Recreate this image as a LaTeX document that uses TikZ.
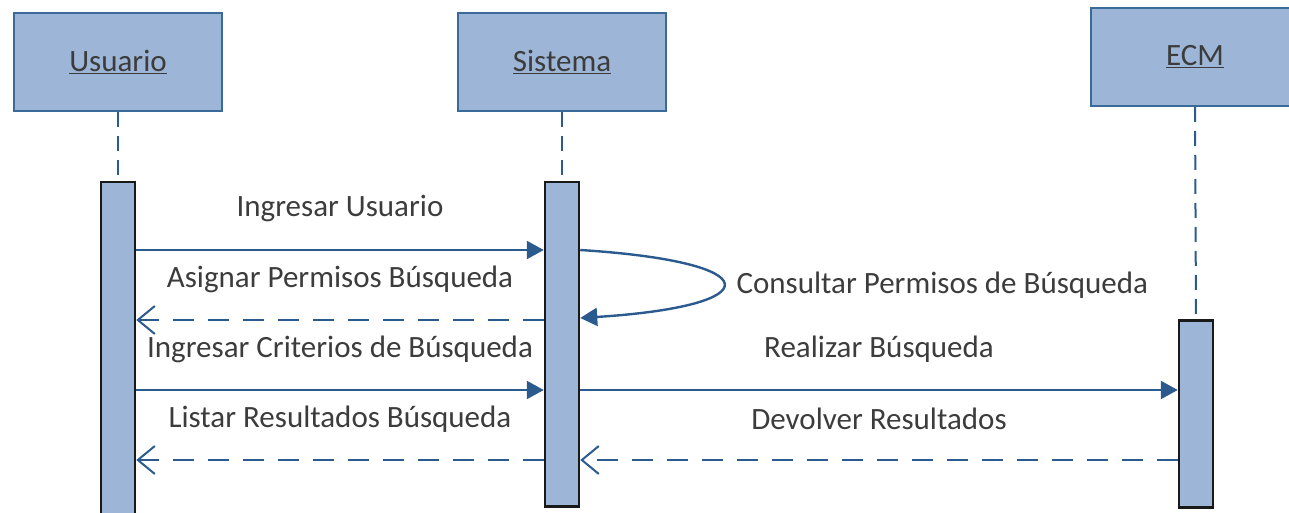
\documentclass[tikz,border=0pt]{standalone}
\usepackage{fontspec}
\setmainfont{Carlito}
\usepackage{tikz}
\usetikzlibrary{arrows.meta,calc}
\definecolor{boxfill}{HTML}{9DB5D6}
\definecolor{boxline}{HTML}{3A6A9A}
\definecolor{msgblue}{HTML}{2B5A8E}
\definecolor{txtgray}{HTML}{3C3C3C}
\tikzset{
    actor/.style={
        draw=boxline,
        fill=boxfill,
        line width=2pt,
        minimum width=208pt,
        minimum height=98pt,
        text=txtgray,
        font=\fontsize{31}{36}\selectfont
    },
    actbar/.style={
        draw=black!90,
        fill=boxfill,
        line width=2.5pt,
        minimum width=34pt,
        anchor=north
    },
    lifeline/.style={
        draw=msgblue,
        line width=2pt,
        dash pattern=on 15pt off 9pt
    },
    callmsg/.style={
        draw=msgblue,
        line width=2.4pt,
        -{Triangle[length=17pt,width=18pt]}
    },
    retmsg/.style={
        draw=msgblue,
        line width=2.4pt,
        dash pattern=on 21pt off 14pt,
        -{Straight Barb[length=17pt,width=28pt,line width=2pt]}
    },
    msglabel/.style={
        text=txtgray,
        font=\fontsize{31}{36}\selectfont,
        midway,
        yshift=41pt
    }
}

\begin{document}
\begin{tikzpicture}[x=1pt,y=1pt]
\useasboundingbox (0,0) rectangle (1289,512);
\clip (0,0) rectangle (1289,512);

% participants
\node[actor] (usr) at (118,450) {\underline{Usuario}};
\node[actor] (sys) at (562,450) {\underline{Sistema}};
\node[actor] (ecm) at (1195,455) {\underline{ECM}};

% activation bars
\node[actbar, minimum height=340pt] (usrbar) at (118,331) {};
\node[actbar, minimum height=324pt] (sysbar) at (562,331) {};
\node[actbar, minimum height=187pt] (ecmbar) at (1196,193) {};

\draw[lifeline] (usr.south) -- (usrbar.north);
\draw[lifeline] (sys.south) -- (sysbar.north);
\draw[lifeline] (ecm.south) -- (ecmbar.north);

% message rows
\coordinate (r1) at (0,262);
\coordinate (r2) at (0,192);
\coordinate (r3) at (0,122);
\coordinate (r4) at (0,52);
\coordinate (selfin) at (0,194);

\draw[callmsg] (usrbar.east |- r1) -- (sysbar.west |- r1)
    node[msglabel] {Ingresar Usuario};
\draw[callmsg] (sysbar.east |- r1) .. controls ($(sysbar.east |- r1)+(190,-12)$)
    and ($(sysbar.east |- selfin)+(190,12)$) .. (sysbar.east |- selfin);
\node[text=txtgray, font=\fontsize{31}{36}\selectfont, anchor=west] (selflbl) at (733,227)
    {Consultar Permisos de Búsqueda};
\draw[retmsg] (sysbar.west |- r2) -- (usrbar.east |- r2)
    node[msglabel] {Asignar Permisos Búsqueda};
\draw[callmsg] (usrbar.east |- r3) -- (sysbar.west |- r3)
    node[msglabel] {Ingresar Criterios de Búsqueda};
\draw[callmsg] (sysbar.east |- r3) -- (ecmbar.west |- r3)
    node[msglabel] {Realizar Búsqueda};
\draw[retmsg] (sysbar.west |- r4) -- (usrbar.east |- r4)
    node[msglabel] {Listar Resultados Búsqueda};
\draw[retmsg] (ecmbar.west |- r4) -- (sysbar.east |- r4)
    node[msglabel] {Devolver Resultados};
\end{tikzpicture}
\end{document}
